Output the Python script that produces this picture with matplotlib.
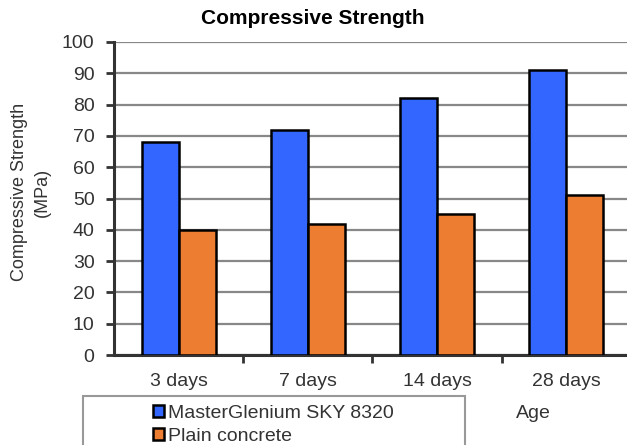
import matplotlib.pyplot as plt
import matplotlib.patches as mpatches
import numpy as np

# dados
idades = ['3 days', '7 days', '14 days', '28 days']
sky_8320 = [68, 72, 82, 91]
concreto_simples = [40, 42, 45, 51]

plt.rcParams['font.family'] = ['Liberation Sans', 'DejaVu Sans']

fig = plt.figure(figsize=(6.27, 4.45), dpi=100)
ax = fig.add_axes([114 / 627, 1 - 355 / 445, 1 - 114 / 627 + 0.006, 313 / 445])

x = np.arange(len(idades))
w = 0.287
b1 = ax.bar(x - w / 2, sky_8320, w, color='#3366FF', edgecolor='black', linewidth=1.8,
            label='MasterGlenium SKY 8320', zorder=3)
b2 = ax.bar(x + w / 2, concreto_simples, w, color='#ED7D31', edgecolor='black', linewidth=1.8,
            label='Plain concrete', zorder=3)

ax.set_xlim(-0.5, len(idades) - 0.5)
ax.set_ylim(0, 100)
ax.set_yticks(range(0, 101, 10))
ax.set_xticks(x)
ax.set_xticklabels(idades)
ax.set_xticks(np.arange(0.5, len(idades) - 0.5, 1), minor=True)
ax.tick_params(axis='x', which='major', length=0, pad=13, labelsize=14, labelcolor='#333333')
ax.tick_params(axis='x', which='minor', length=6, width=2, color='#333333', direction='out')
ax.tick_params(axis='y', length=6, width=2, color='#333333', labelsize=14, labelcolor='#333333', pad=8)

ax.grid(axis='y', color='#888888', linewidth=1.6, zorder=0)
for s in ['top', 'right']:
    ax.spines[s].set_visible(False)
for s in ['left', 'bottom']:
    ax.spines[s].set_color('#333333')
    ax.spines[s].set_linewidth(2.2)

fig.text(313 / 627, 1 - 18 / 445, 'Compressive Strength', ha='center', va='center',
         fontsize=15, fontweight='bold')
fig.text(31 / 627, 1 - 192 / 445, 'Compressive Strength\n(MPa)', rotation=90, ha='center', va='center',
         fontsize=13, color='#333333', multialignment='center', linespacing=1.5)
fig.text(533 / 627, 1 - 413 / 445, 'Age', ha='center', va='center', fontsize=14, color='#333333')

# caixa da legenda (cortada na borda inferior)
caixa = mpatches.Rectangle((83 / 627, -0.05), (465 - 83) / 627, 0.05 + (445 - 396) / 445,
                           transform=fig.transFigure, facecolor='white', edgecolor='#999999',
                           linewidth=1.5, zorder=1)
fig.patches.append(caixa)
fig.legend(handles=[b1, b2], loc='upper left', bbox_to_anchor=(141 / 627, 1 - 393 / 445),
           frameon=False, fontsize=14, handlelength=0.6, handleheight=0.6, handletextpad=0.2,
           labelspacing=0.3, borderpad=0.1, labelcolor='#333333')

plt.savefig('out.png', dpi=100)
